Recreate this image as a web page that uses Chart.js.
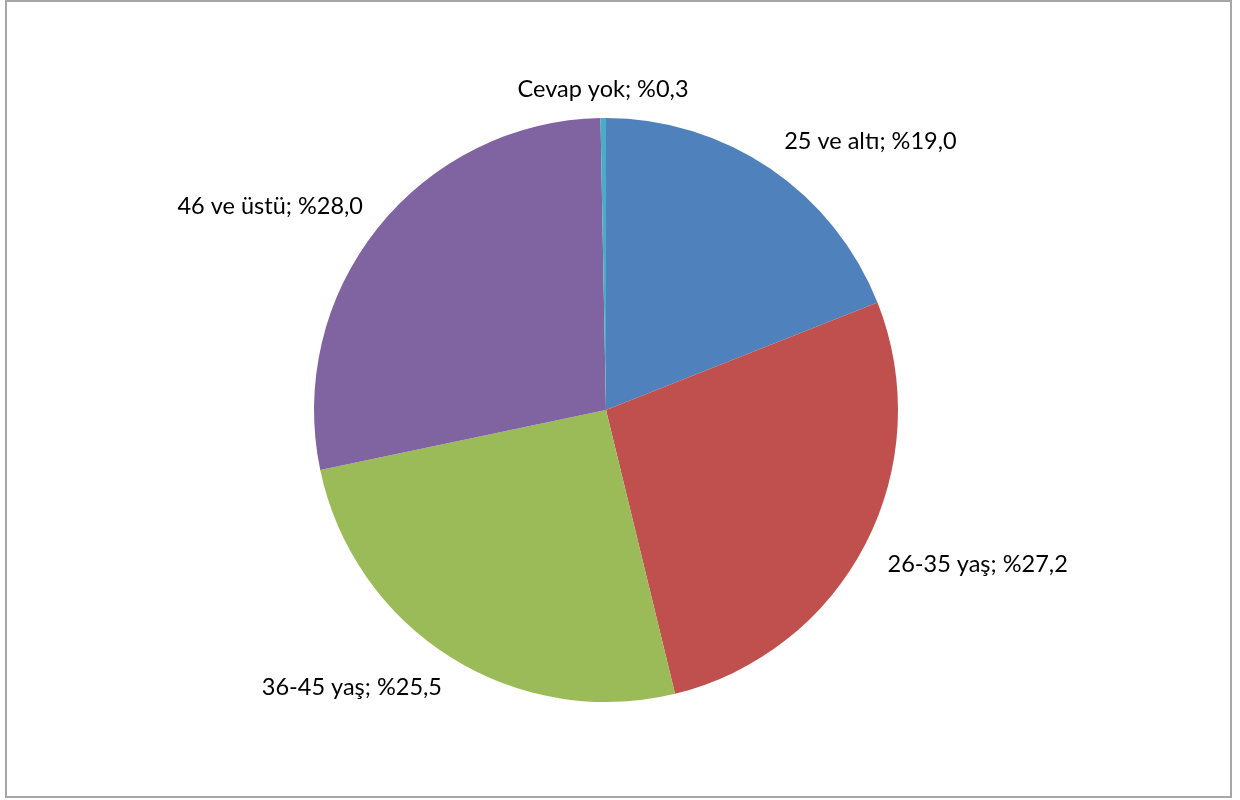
<!DOCTYPE html>
<html>
<head>
<meta charset="utf-8">
<script src="https://cdn.jsdelivr.net/npm/chart.js@4/dist/chart.umd.min.js"></script>
<style>
  html, body { margin: 0; padding: 0; background: #fff; }
  #wrap { position: relative; width: 1240px; height: 800px; }
</style>
</head>
<body>
<div id="wrap"><canvas id="pie" width="1240" height="800"></canvas></div>
<script>
// yaş grupları
var categories = ['25 ve altı', '26-35 yaş', '36-45 yaş', '46 ve üstü', 'Cevap yok'];
var values = [19.0, 27.2, 25.5, 28.0, 0.3];
var colors = ['#4F81BD', '#C0504D', '#9BBB59', '#8064A2', '#4BACC6'];

// frame around the whole chart
var framePlugin = {
  id: 'frame',
  afterDraw: function(chart) {
    var ctx = chart.ctx;
    ctx.save();
    ctx.strokeStyle = '#a6a6a6';
    ctx.lineWidth = 2;
    ctx.strokeRect(6, 1, 1225, 796);
    ctx.restore();
  }
};

// labels outside the slices, like Excel's outside end
var outsideLabels = {
  id: 'outsideLabels',
  afterDatasetsDraw: function(chart) {
    var ctx = chart.ctx;
    var meta = chart.getDatasetMeta(0);
    ctx.save();
    ctx.font = '23.5px Lato, "Liberation Sans", sans-serif';
    ctx.fillStyle = '#000';
    ctx.textBaseline = 'middle';
    meta.data.forEach(function(arc, i) {
      var mid = (arc.startAngle + arc.endAngle) / 2;
      var r = arc.outerRadius + 25;
      var x = arc.x + Math.cos(mid) * r;
      var y = arc.y + Math.sin(mid) * r;
      var dx = x - arc.x;
      if (Math.abs(dx) < 20) {
        ctx.textAlign = 'center';
        y -= 4;
      } else if (dx > 0) {
        ctx.textAlign = 'left';
      } else {
        ctx.textAlign = 'right';
        x += 5;
      }
      if (y > arc.y) y += 9; else if (Math.abs(dx) >= 20) y -= 6;
      var txt = categories[i] + '; %' + values[i].toFixed(1).replace('.', ',');
      ctx.fillText(txt, x, y);
    });
    ctx.restore();
  }
};

new Chart(document.getElementById('pie'), {
  type: 'pie',
  data: {
    labels: categories,
    datasets: [{
      data: values,
      backgroundColor: colors,
      borderWidth: 0
    }]
  },
  options: {
    responsive: false,
    animation: false,
    layout: { padding: { top: 118, bottom: 98, left: 100, right: 128 } },
    plugins: {
      legend: { display: false },
      tooltip: { enabled: false }
    }
  },
  plugins: [framePlugin, outsideLabels]
});
</script>
</body>
</html>
